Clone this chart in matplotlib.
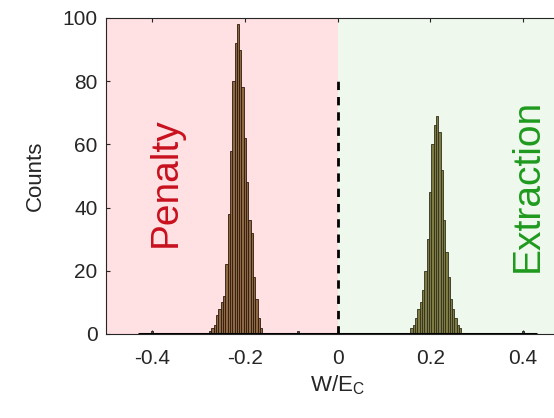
import matplotlib
matplotlib.use('Agg')
import matplotlib.pyplot as plt
import numpy as np

plt.rcParams['font.family'] = ['Liberation Sans', 'DejaVu Sans']

# histogram bins: width 0.005, covering -0.43 .. 0.43
bin_width = 0.005
bin_lo, bin_hi = -0.43, 0.43

# penalty peak (left), bin centres and counts
penalty_centres = [-0.270, -0.265, -0.260, -0.255, -0.250, -0.245, -0.240, -0.235,
                   -0.230, -0.225, -0.220, -0.215, -0.210, -0.205, -0.200, -0.195,
                   -0.190, -0.185, -0.180, -0.175, -0.170, -0.165]
penalty_counts = [2, 3, 6, 8, 10, 12, 22, 38,
                  58, 80, 92, 98, 90, 78, 62, 48,
                  36, 32, 18, 11, 5, 2]

# extraction peak (right)
extract_centres = [0.160, 0.165, 0.170, 0.175, 0.180, 0.185, 0.190, 0.195,
                   0.200, 0.205, 0.210, 0.215, 0.220, 0.225, 0.230, 0.235,
                   0.240, 0.245, 0.250, 0.255, 0.260, 0.265]
extract_counts = [2, 3, 5, 8, 10, 14, 20, 30,
                  45, 60, 66, 69, 64, 52, 36, 26,
                  18, 11, 8, 5, 3, 2]

# stray single events in the tails
stray_centres = [-0.400, -0.275, -0.085, 0.400]
stray_counts = [1, 1, 1, 1]

xticks = [-0.4, -0.2, 0, 0.2, 0.4]
yticks = [0, 20, 40, 60, 80, 100]
divider_top = 80

fig = plt.figure(figsize=(5.54, 4.18), dpi=100)
ax = fig.add_axes([0.1913, 0.201, 0.836, 0.756])

ax.axvspan(-0.5, 0, color='#ffe0e3', zorder=0, lw=0)
ax.axvspan(0, 0.5, color='#eef8ec', zorder=0, lw=0)

ax.bar(penalty_centres, penalty_counts, width=bin_width, color='#8e6844',
       edgecolor='#2e1a0c', linewidth=0.6, zorder=2)
ax.bar(extract_centres, extract_counts, width=bin_width, color='#7e7a44',
       edgecolor='#30301a', linewidth=0.6, zorder=2)
ax.bar(stray_centres, stray_counts, width=bin_width, color='#555555',
       edgecolor='#222222', linewidth=0.6, zorder=2)

# empty bins show up as a solid baseline
ax.plot([bin_lo, bin_hi], [0, 0], color='black', lw=2.2, zorder=3,
        solid_capstyle='butt')

ax.plot([0, 0], [0, divider_top], color='black', lw=2.0,
        dashes=(3, 2.5), zorder=3)

ax.text(-0.37, 48, 'Penalty', rotation=90, color='#c8101e', fontsize=28,
        ha='center', va='center', zorder=4)
ax.text(0.41, 47, 'Extraction', rotation=90, color='#1e9a1e', fontsize=28,
        ha='center', va='center', zorder=4)

ax.set_xlim(-0.5, 0.5)
ax.set_ylim(0, 100)
ax.set_xticks(xticks)
ax.set_xticklabels(['-0.4', '-0.2', '0', '0.2', '0.4'])
ax.set_yticks(yticks)
ax.tick_params(direction='in', length=3, width=0.8, colors='#262626',
               labelsize=15, top=True, right=True)
ax.tick_params(axis='x', pad=11)
ax.tick_params(axis='y', pad=6)
for s in ax.spines.values():
    s.set_color('#262626')
    s.set_linewidth(0.8)

ax.set_xlabel('W/E$_\\mathregular{C}$', fontsize=16, color='#262626', labelpad=4)
ax.set_ylabel('Counts', fontsize=16, color='#262626', labelpad=12)

fig.savefig('out.png', dpi=100)
